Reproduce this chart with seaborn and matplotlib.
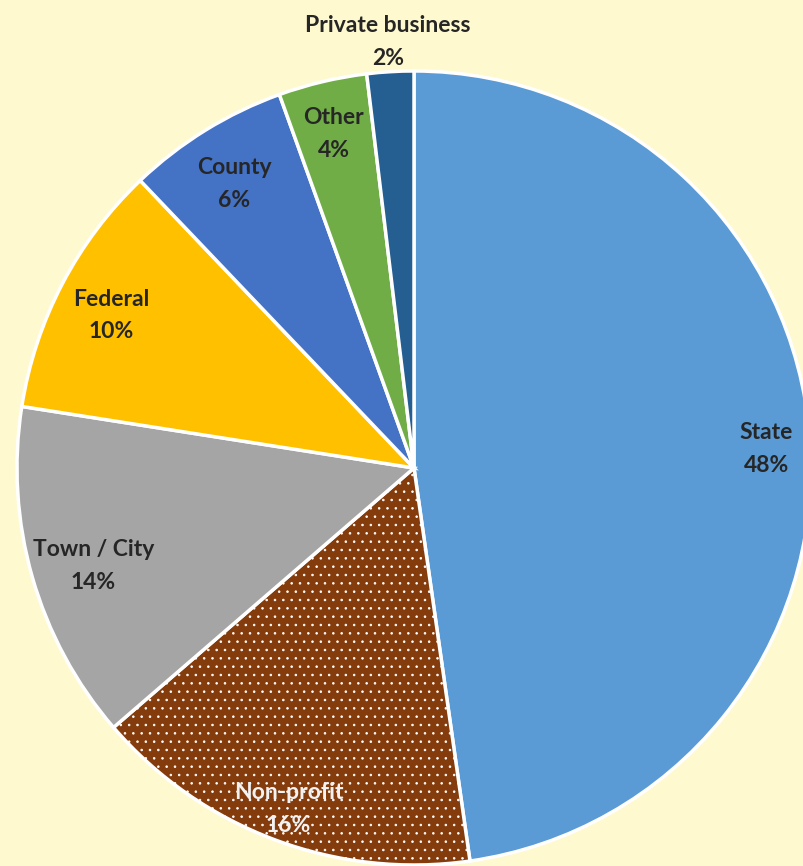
import numpy as np
import matplotlib
matplotlib.use("Agg")
import matplotlib.pyplot as plt
import seaborn as sns

# Data
categories = ["State", "Non-profit", "Town / City", "Federal", "County", "Other", "Private business"]
shares = [47.7, 15.9, 13.8, 10.4, 6.6, 3.6, 1.9]
pct_labels = ["48%", "16%", "14%", "10%", "6%", "4%", "2%"]
colors = ["#5B9BD5", "#843C0C", "#A5A5A5", "#FFC000", "#4472C4", "#70AD47", "#255E91"]

# label distance from centre, as fraction of radius
label_dist = [0.89, 0.90, 0.84, 0.86, 0.86, 0.88, 1.09]
text_colors = ["#262626", "#F2F2F2", "#262626", "#262626", "#262626", "#262626", "#262626"]

bg = "#FFF9CF"

sns.set_theme(style="white")
plt.rcParams["font.family"] = ["Lato", "DejaVu Sans"]
plt.rcParams["hatch.color"] = "white"
plt.rcParams["hatch.linewidth"] = 0.6

fig = plt.figure(figsize=(8.04, 8.66), dpi=100, facecolor=bg)
ax = fig.add_axes([0, 0, 1, 1])

cx, cy, R = 414, 866 - 468, 397
wedges, _ = ax.pie(shares, colors=colors, startangle=90, counterclock=False,
                   center=(cx, cy), radius=R,
                   wedgeprops=dict(edgecolor="white", linewidth=2.5))
wedges[1].set_hatch("..")

for w, cat, pct, d, tc in zip(wedges, categories, pct_labels, label_dist, text_colors):
    mid = np.deg2rad((w.theta1 + w.theta2) / 2)
    x = cx + d * R * np.cos(mid)
    y = cy + d * R * np.sin(mid) - 6
    ax.text(x, y, f"{cat}\n{pct}", ha="center", va="center", fontsize=16.5,
            fontweight="bold", color=tc, linespacing=1.7)

ax.set_xlim(0, 804)
ax.set_ylim(0, 866)
ax.set_aspect("equal")
ax.axis("off")

fig.savefig("out.png", dpi=100, facecolor=bg)
